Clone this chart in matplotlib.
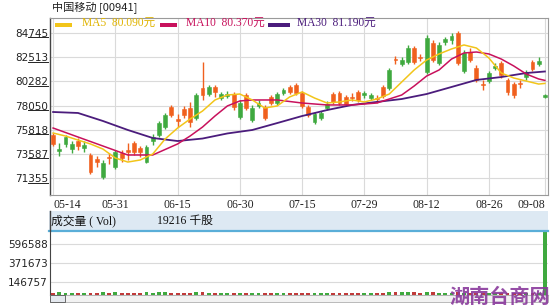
import matplotlib
matplotlib.use('Agg')
import matplotlib.pyplot as plt
import numpy as np
from matplotlib.patches import Rectangle
from matplotlib.lines import Line2D
from matplotlib.transforms import IdentityTransform

# ---------------- data (prices in yuan, plotted x1000) ----------------
date_labels = ['05-14', '05-31', '06-15', '06-30', '07-15', '07-29', '08-12', '08-26', '09-08']
date_pos = [0, 10, 20, 30, 40, 50, 60, 70, 79]

opens = [75.33, 73.85, 74.50, 74.03, 74.77, 74.13, 73.48, 73.11, 71.45, 73.25,
         72.37, 73.66, 73.94, 74.59, 74.13, 72.83, 74.77, 75.33, 76.06, 77.91,
         76.80, 77.73, 77.82, 76.90, 79.67, 79.11, 79.76, 78.74, 78.93, 79.11,
         76.99, 79.02, 76.71, 78.01, 77.91, 78.84, 78.28, 79.20, 79.76, 79.94,
         79.20, 77.91, 76.53, 76.90, 77.82, 79.11, 79.20, 78.84, 78.84, 79.30,
         79.02, 78.74, 78.74, 79.76, 79.67, 82.34, 81.88, 82.07, 83.36, 82.53,
         81.14, 83.82, 81.97, 83.91, 84.10, 84.75, 81.24, 82.99, 81.51, 80.03,
         80.31, 81.51, 81.97, 80.41, 80.03, 80.13, 80.68, 82.07, 81.88, 78.84]
highs = [75.51, 74.59, 75.33, 74.77, 75.05, 74.77, 73.66, 73.39, 73.02, 73.66,
         73.94, 73.94, 74.59, 74.77, 74.31, 74.40, 75.42, 76.62, 77.36, 78.10,
         77.26, 78.01, 78.38, 79.20, 82.07, 79.94, 79.94, 79.30, 79.39, 79.30,
         78.56, 79.20, 78.10, 78.56, 78.10, 79.02, 79.30, 79.67, 79.94, 80.13,
         79.39, 78.10, 77.45, 77.54, 78.47, 79.30, 79.39, 79.02, 79.20, 79.48,
         79.39, 79.20, 79.02, 79.94, 81.51, 82.62, 82.53, 83.64, 83.54, 82.81,
         84.56, 84.10, 83.91, 84.38, 84.75, 84.93, 83.18, 83.36, 81.79, 80.41,
         81.24, 81.97, 82.16, 80.59, 80.22, 80.41, 81.33, 82.25, 82.53, 79.11]
lows = [74.31, 73.39, 74.22, 73.66, 73.94, 73.76, 71.73, 72.37, 71.26, 72.65,
        72.19, 72.83, 73.02, 73.48, 73.30, 72.74, 74.40, 75.14, 75.88, 76.99,
        76.06, 76.90, 76.06, 76.71, 78.56, 78.93, 78.84, 78.56, 78.74, 77.63,
        76.80, 77.63, 76.53, 77.82, 76.71, 78.10, 78.10, 79.02, 79.11, 79.02,
        77.82, 76.99, 76.34, 76.71, 77.63, 78.19, 78.10, 78.01, 78.47, 78.38,
        78.74, 78.56, 78.28, 78.74, 79.48, 81.88, 81.70, 81.88, 81.88, 82.16,
        80.96, 82.07, 81.79, 83.64, 83.73, 81.79, 81.05, 82.07, 80.22, 79.48,
        80.13, 81.33, 80.59, 79.02, 78.74, 79.67, 80.41, 81.24, 81.70, 78.74]
closes = [74.50, 74.03, 75.14, 74.50, 74.31, 74.40, 71.91, 72.83, 72.74, 73.16,
          73.76, 73.20, 73.76, 73.76, 73.76, 74.22, 75.14, 76.43, 77.17, 77.17,
          76.62, 77.17, 76.53, 79.02, 79.02, 79.76, 79.30, 79.11, 79.11, 77.91,
          78.28, 77.82, 77.82, 78.28, 76.90, 78.28, 79.11, 79.48, 79.30, 79.20,
          78.01, 77.17, 77.26, 77.36, 78.19, 78.38, 78.28, 78.19, 78.74, 78.56,
          79.20, 79.02, 78.65, 78.93, 81.33, 82.25, 82.25, 83.36, 82.07, 82.44,
          84.28, 82.25, 83.64, 84.19, 84.47, 81.97, 82.90, 82.25, 80.41, 79.94,
          81.05, 81.70, 80.87, 79.30, 79.02, 80.03, 81.14, 81.42, 82.16, 79.02]
volumes = [24000, 30000, 28000, 22000, 26000, 25000, 29000, 27000, 31000, 24000,
           30000, 26000, 27000, 25000, 28000, 30000, 29000, 31000, 32000, 27000,
           22000, 24000, 26000, 33000, 30000, 28000, 26000, 22000, 21000, 25000,
           27000, 24000, 26000, 22000, 25000, 23000, 24000, 21000, 22000, 27000,
           26000, 24000, 21000, 22000, 20000, 24000, 27000, 25000, 22000, 21000,
           20000, 21000, 22000, 24000, 36000, 30000, 32000, 34000, 31000, 28000,
           33000, 30000, 29000, 27000, 26000, 31000, 28000, 25000, 27000, 24000,
           26000, 25000, 24000, 27000, 28000, 23000, 25000, 24000, 22000, 760000]

ma5_idx = [0, 2, 4, 6, 8, 10, 12, 14, 16, 18, 20, 22, 24, 26, 28, 30, 32, 34, 36, 38,
           40, 42, 44, 46, 48, 50, 52, 54, 56, 58, 60, 62, 64, 66, 68, 70, 72, 74, 76, 78, 79]
ma5 = [75.51, 75.23, 74.86, 74.50, 74.03, 73.20, 72.83, 73.02, 73.57, 74.96,
       75.97, 76.80, 77.54, 78.56, 79.02, 79.11, 78.56, 77.82, 78.01, 78.84,
       79.30, 78.74, 78.28, 78.38, 78.56, 78.38, 78.65, 79.11, 80.22, 81.33,
       82.25, 82.81, 83.27, 83.64, 83.36, 82.44, 81.05, 80.59, 80.31, 80.03, 80.09]
ma10_idx = [0, 4, 8, 12, 16, 20, 22, 24, 26, 28, 30, 32, 36, 40, 44, 48, 52, 56, 58, 60,
            62, 64, 66, 68, 70, 72, 74, 76, 78, 79]
ma10 = [75.97, 75.14, 74.31, 73.48, 73.48, 74.50, 75.23, 76.06, 77.08, 78.01,
        78.47, 78.56, 78.56, 78.28, 78.10, 78.10, 78.28, 79.02, 79.85, 80.77,
        81.33, 82.34, 82.90, 82.99, 82.81, 82.34, 81.70, 80.96, 80.50, 80.37]
ma30_idx = [0, 4, 8, 12, 16, 20, 24, 28, 32, 36, 40, 44, 48, 52, 56, 60, 64, 68, 72, 76, 79]
ma30 = [77.45, 77.36, 76.62, 75.79, 75.05, 74.77, 75.00, 75.47, 75.79, 76.43,
        77.08, 77.63, 78.10, 78.38, 78.65, 79.11, 79.76, 80.41, 80.68, 81.05, 81.19]

price_ticks = [84745, 82513, 80282, 78050, 75818, 73587, 71355]
vol_ticks = [596588, 371673, 146757]
legend_labels = ['MA5  80.090元', 'MA10  80.370元', 'MA30  81.190元']

# ---------------- styling ----------------
UP = '#3fa93f'
DOWN = '#f0601e'
VUP = '#3fa93f'
VDOWN = '#c03a3a'
C5, C10, C30 = '#f2c51a', '#c8115c', '#4b1c7c'
GRID = '#dadada'

W, H = 550, 308
fig = plt.figure(figsize=(W / 100, H / 100), dpi=100)
fig.patch.set_facecolor('white')

def fx(px):
    return px / W

def fy(py):
    return 1 - py / H

ax = fig.add_axes([fx(50), fy(195), fx(548) - fx(50), fy(18) - fy(195)])
axv = fig.add_axes([fx(50), fy(295), fx(548) - fx(50), fy(232) - fy(295)])

n = len(opens)
idx = np.arange(n)
o = np.array(opens) * 1000
h = np.array(highs) * 1000
l = np.array(lows) * 1000
c = np.array(closes) * 1000
up = c >= o
cols = np.where(up, UP, DOWN)

# wicks
ax.vlines(idx, l, h, colors=cols, lw=1.0, zorder=3)
# bodies
bottoms = np.minimum(o, c)
heights = np.maximum(np.abs(c - o), 90)
ax.bar(idx, heights, bottom=bottoms, width=0.62, color=cols, edgecolor=cols, lw=0.4, zorder=4)

# moving averages
ax.plot(ma30_idx, np.array(ma30) * 1000, color=C30, lw=1.3, zorder=5)
ax.plot(ma10_idx, np.array(ma10) * 1000, color=C10, lw=1.1, zorder=5)
ax.plot(ma5_idx, np.array(ma5) * 1000, color=C5, lw=1.1, zorder=5)

ax.set_xlim(-0.5, n - 0.5)
ax.set_ylim(69786, 86130)
ax.set_yticks(price_ticks)
ax.set_yticklabels([str(t) for t in price_ticks], fontsize=7.5, family='DejaVu Sans', color='#222')
ax.set_xticks(date_pos)
ax.set_xticklabels(date_labels, fontsize=8.5, family='Liberation Serif', color='#222')
xl = ax.get_xticklabels()
xl[0].set_ha('left')
xl[-1].set_ha('right')
ax.tick_params(axis='both', length=0)
ax.tick_params(axis='y', pad=1.5)
ax.tick_params(axis='x', pad=3)
ax.grid(True, color=GRID, lw=0.8)
ax.set_axisbelow(True)
for s in ['top', 'right', 'bottom']:
    ax.spines[s].set_color('#9a9a9a')
    ax.spines[s].set_linewidth(0.8)
ax.spines['left'].set_color('#444')
ax.spines['left'].set_linewidth(1.0)

# volume panel
vcols = np.where(up, VUP, VDOWN)
axv.bar(idx, volumes, width=0.62, color=vcols, zorder=3)
axv.set_xlim(-0.5, n - 0.5)
axv.set_ylim(0, 738000)
axv.set_yticks(vol_ticks)
axv.set_yticklabels([str(t) for t in vol_ticks], fontsize=7.5, family='DejaVu Sans', color='#222')
axv.set_xticks(date_pos)
axv.tick_params(axis='x', labelbottom=False, length=0)
axv.tick_params(axis='y', length=0, pad=1.5)
axv.grid(True, axis='y', color=GRID, lw=0.8)
axv.grid(False, axis='x')
axv.set_axisbelow(True)
for s in ['top', 'right']:
    axv.spines[s].set_visible(False)
axv.spines['bottom'].set_color('#9a9a9a')
axv.spines['bottom'].set_linewidth(0.8)
axv.spines['left'].set_color('#444')

# header band for volume
fig.patches.append(Rectangle((fx(49), fy(231)), fx(548) - fx(49), 20 / H,
                             transform=fig.transFigure, facecolor='#dde9f3', edgecolor='none', zorder=1))
fig.add_artist(Line2D([fx(49), fx(548)], [fy(231), fy(231)], color='#5aaed8', lw=1.6, zorder=2))
fig.add_artist(Line2D([fx(49.5), fx(49.5)], [fy(231), fy(211)], color='#444', lw=1.0, zorder=2))
fig.text(fx(51), fy(221), '成交量 ( Vol)', fontsize=8.5, family=['Liberation Serif', 'Noto Sans CJK SC'],
         color='#111', va='center', ha='left')
fig.text(fx(157), fy(221), '19216 千股', fontsize=8.5, family=['Liberation Serif', 'Noto Sans CJK SC'],
         color='#111', va='center', ha='left')

# scrollbar
fig.patches.append(Rectangle((fx(50), fy(302)), fx(548) - fx(50), 7 / H, transform=fig.transFigure,
                             facecolor='#f2f2f2', edgecolor='#b0b0b0', lw=0.6, zorder=1))
fig.patches.append(Rectangle((fx(50), fy(302)), 15 / W, 7 / H, transform=fig.transFigure,
                             facecolor='#e4e8ee', edgecolor='#555', lw=0.6, zorder=2))

# title
fig.text(fx(52), fy(7.5), '中国移动 [00941]', fontsize=8, family=['Noto Sans CJK SC', 'DejaVu Sans'],
         color='#222', va='center', ha='left')

# legend
leg = [(55, 72, 82, C5, '#e0b400'), (160, 177, 186, C10, C10), (268, 290, 297, C30, C30)]
for (x0, x1, xt, lc, tc), lab in zip(leg, legend_labels):
    fig.patches.append(Rectangle((fx(x0), fy(26.5)), (x1 - x0) / W, 4 / H, transform=fig.transFigure,
                                 facecolor=lc, edgecolor='none', zorder=6))
    fig.text(fx(xt), fy(24), lab, fontsize=8.3, family=['Liberation Serif', 'Noto Sans CJK SC'],
             color=tc, va='center', ha='left', zorder=6)

# watermark
fig.text(fx(449), fy(307), '湖南台商网', fontsize=14.5, family=['Noto Sans CJK SC'], fontweight='bold',
         color='#8a3a9c', alpha=0.9, va='bottom', ha='left', zorder=10)

# underline last three digits of price labels
fig.canvas.draw()
for lab in ax.get_yticklabels():
    bb = lab.get_window_extent()
    x1 = bb.x1
    x0 = bb.x1 - bb.width * 0.6
    yy = bb.y0 + 1.5
    fig.add_artist(Line2D([x0, x1], [yy, yy], transform=IdentityTransform(), color='#222', lw=0.7))

fig.savefig('out.png', dpi=100, facecolor='white')
